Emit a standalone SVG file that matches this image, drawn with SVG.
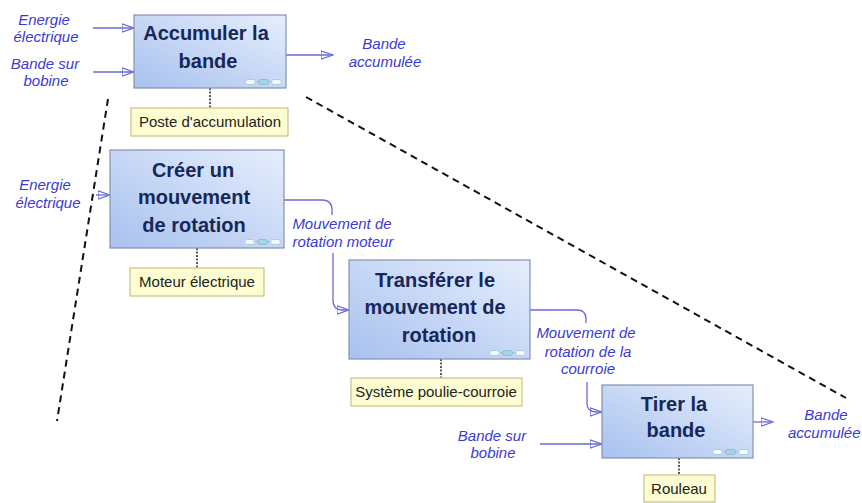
<svg xmlns="http://www.w3.org/2000/svg" width="862" height="503" viewBox="0 0 862 503">
<defs>
<linearGradient id="boxg" x1="1" y1="0" x2="0" y2="1">
<stop offset="0" stop-color="#e6eefc"/>
<stop offset="1" stop-color="#a8c1ef"/>
</linearGradient>
<marker id="arr" viewBox="0 0 13 10" refX="12.5" refY="5" markerWidth="13" markerHeight="10" markerUnits="userSpaceOnUse" orient="auto">
<path d="M0.5,0.8 L12.3,5 L0.5,9.2 Z" fill="none" stroke="#6a6ad6" stroke-width="1.2"/>
</marker>
<g id="icon">
<line x1="5" y1="2.5" x2="32" y2="2.5" stroke="#9cc4dc" stroke-width="1"/>
<rect x="0.5" y="0.5" width="10" height="5" rx="2.5" fill="#f4fafd" stroke="#a8cfe0" stroke-width="1"/>
<rect x="13.5" y="0.5" width="10" height="5" rx="2.5" fill="#a9d3e8" stroke="#8cbcd6" stroke-width="1"/>
<rect x="26.5" y="0.5" width="10" height="5" rx="2.5" fill="#f4fafd" stroke="#a8cfe0" stroke-width="1"/>
</g>
</defs>
<style>
.box{fill:url(#boxg);stroke:#8591b0;stroke-width:1.2}
.bt{font-family:"Liberation Sans",Arial,sans-serif;font-weight:bold;font-size:20px;fill:#16275a;text-anchor:middle}
.lab{fill:#fdfdd2;stroke:#c9c08a;stroke-width:1.2}
.lt{font-family:"Liberation Sans",Arial,sans-serif;font-size:15px;fill:#222;text-anchor:middle}
.ft{font-family:"Liberation Sans",Arial,sans-serif;font-style:italic;font-size:15px;fill:#3a3ad4;text-anchor:middle}
.ft.st{text-anchor:start}
.flow{fill:none;stroke:#6a6ad6;stroke-width:1.3}
.dot{stroke:#222;stroke-width:1.5;stroke-dasharray:2,1.5}
.dash{stroke:#111;stroke-width:2;stroke-dasharray:7,5;fill:none}
</style>
<rect width="862" height="503" fill="#ffffff"/>

<g id="dashed-lines">
<line class="dash" x1="108" y1="99" x2="57" y2="421"/>
<line class="dash" x1="306" y1="97" x2="846" y2="398"/>
</g>

<g id="connectors">
<path class="flow" d="M93,28 H134" marker-end="url(#arr)"/>
<path class="flow" d="M93,72 H134" marker-end="url(#arr)"/>
<path class="flow" d="M286,55 H333" marker-end="url(#arr)"/>
<path class="flow" d="M96,195 H110" marker-end="url(#arr)"/>
<path class="flow" d="M284,200 H322 Q332,200 332,210 V215"/>
<path class="flow" d="M333,253 V300 Q333,310 342,310 H349" marker-end="url(#arr)"/>
<path class="flow" d="M530,310 H577 Q586,310 586,319 V323"/>
<path class="flow" d="M587,382 V403 Q587,412 596,412 H602" marker-end="url(#arr)"/>
<path class="flow" d="M540,444 H602" marker-end="url(#arr)"/>
<path class="flow" d="M753,422 H773" marker-end="url(#arr)"/>
<line class="dot" x1="210" y1="88" x2="210" y2="108"/>
<line class="dot" x1="197" y1="248" x2="197" y2="268"/>
<line class="dot" x1="441" y1="359" x2="441" y2="378"/>
<line class="dot" x1="679" y1="458" x2="679" y2="475"/>
</g>

<g id="node-accumuler">
<rect class="box" x="134" y="15" width="152" height="73"/>
<text class="bt" x="206" y="40">Accumuler la</text>
<text class="bt" x="208" y="68">bande</text>
<use href="#icon" x="245" y="79"/>
</g>
<g id="label-poste">
<rect class="lab" x="131" y="108" width="157" height="28"/>
<text class="lt" x="210" y="127">Poste d'accumulation</text>
</g>

<g id="node-creer">
<rect class="box" x="110" y="150" width="174" height="98"/>
<text class="bt" x="193" y="177">Créer un</text>
<text class="bt" x="194" y="204">mouvement</text>
<text class="bt" x="194" y="232">de rotation</text>
<use href="#icon" x="244" y="239"/>
</g>
<g id="label-moteur">
<rect class="lab" x="130" y="268" width="134" height="28"/>
<text class="lt" x="197" y="287">Moteur électrique</text>
</g>

<g id="node-transferer">
<rect class="box" x="349" y="260" width="181" height="99"/>
<text class="bt" x="435" y="287">Transférer le</text>
<text class="bt" x="435" y="314">mouvement de</text>
<text class="bt" x="439" y="342">rotation</text>
<use href="#icon" x="489" y="350"/>
</g>
<g id="label-systeme">
<rect class="lab" x="351" y="378" width="171" height="28"/>
<text class="lt" x="436" y="397">Système poulie-courroie</text>
</g>

<g id="node-tirer">
<rect class="box" x="602" y="385" width="151" height="73"/>
<text class="bt" x="674" y="411">Tirer la</text>
<text class="bt" x="676" y="437">bande</text>
<use href="#icon" x="712" y="449"/>
</g>
<g id="label-rouleau">
<rect class="lab" x="644" y="475" width="71" height="27"/>
<text class="lt" x="679" y="494">Rouleau</text>
</g>

<g id="flow-labels">
<text class="ft" x="44" y="25">Energie</text>
<text class="ft" x="46" y="42">électrique</text>
<text class="ft" x="45" y="69">Bande sur</text>
<text class="ft" x="46" y="86">bobine</text>
<text class="ft" x="384" y="49">Bande</text>
<text class="ft" x="385" y="67">accumulée</text>
<text class="ft" x="45" y="190">Energie</text>
<text class="ft" x="48" y="208">électrique</text>
<text class="ft" x="342" y="229">Mouvement de</text>
<text class="ft" x="343" y="247">rotation moteur</text>
<text class="ft" x="586" y="338">Mouvement de</text>
<text class="ft" x="588" y="357">rotation de la</text>
<text class="ft" x="588" y="374">courroie</text>
<text class="ft" x="492" y="441">Bande sur</text>
<text class="ft" x="493" y="458">bobine</text>
<text class="ft" x="826" y="420">Bande</text>
<text class="ft st" x="788" y="438">accumulée</text>
</g>
</svg>
